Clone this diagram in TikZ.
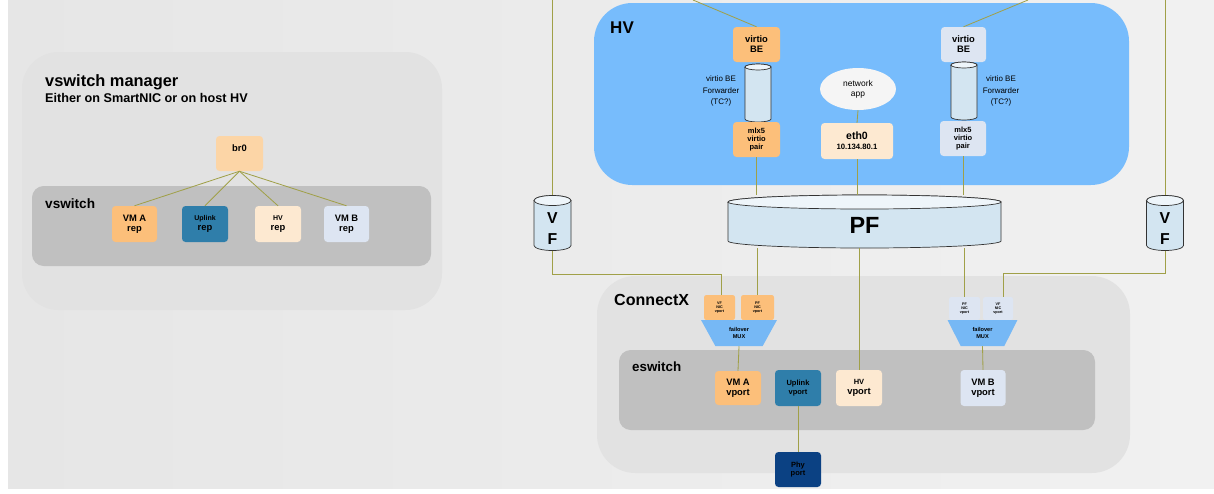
\documentclass[tikz,border=0pt]{standalone}
\usepackage{fontspec}
\setmainfont{Liberation Sans}
\usetikzlibrary{shapes.geometric}
\definecolor{bgL}{HTML}{E6E6E6}
\definecolor{bgR}{HTML}{F1F1F1}
\definecolor{panel}{HTML}{E2E2E2}
\definecolor{inner}{HTML}{C0C0C0}
\definecolor{hvblue}{HTML}{77BCFC}
\definecolor{orangeb}{HTML}{FCBF7A}
\definecolor{peach}{HTML}{FCD5A6}
\definecolor{lpeach}{HTML}{FDE9D1}
\definecolor{lav}{HTML}{DDE5F2}
\definecolor{uplink}{HTML}{2F7EAA}
\definecolor{phyb}{HTML}{0B4183}
\definecolor{cyl}{HTML}{D3E5F1}
\definecolor{cyltop}{HTML}{EEF5FA}
\definecolor{lk}{HTML}{A0A048}
\definecolor{mux}{HTML}{76B8F5}
\tikzset{
  bx/.style={rounded corners=3pt, align=center, inner sep=0pt, font=\bfseries\fontsize{8}{8.6}\selectfont},
  sz/.style 2 args={minimum width=#1*0.03cm, minimum height=#2*0.03cm},
  lk/.style={draw=lk, line width=0.7pt},
  cylline/.style={draw=black!80, line width=0.6pt},
  title/.style={anchor=west, inner sep=0pt, font=\bfseries\fontsize{12}{13}\selectfont},
  nic/.style={bx, rounded corners=2pt, font=\bfseries\fontsize{3.2}{3.6}\selectfont},
  muxs/.style={trapezium, shape border rotate=180, trapezium stretches=true, fill=mux, inner sep=0pt,
    align=center, font=\bfseries\fontsize{4.8}{5.4}\selectfont},
  fwd/.style={align=center, inner sep=0pt, font=\fontsize{6.8}{9.8}\selectfont},
}
% #1 name, #2 cx, #3 cy, #4 width px, #5 height px, #6 ellipse ry px, #7 label options, #8 text
\newcommand\mycyl[8]{%
  \pgfmathsetmacro\cyCX{#2}%
  \pgfmathsetmacro\cyHR{#4/2}%
  \pgfmathsetmacro\cyT{#3-#5/2+#6}%
  \pgfmathsetmacro\cyB{#3+#5/2-#6}%
  \pgfmathsetmacro\cyRX{#4/2*0.03}%
  \pgfmathsetmacro\cyRY{#6*0.03}%
  \filldraw[fill=cyl, cylline]
    (\cyCX-\cyHR,\cyT) -- (\cyCX-\cyHR,\cyB)
    arc[start angle=180, end angle=360, x radius=\cyRX cm, y radius=\cyRY cm]
    -- (\cyCX+\cyHR,\cyT)
    arc[start angle=0, end angle=180, x radius=\cyRX cm, y radius=\cyRY cm] -- cycle;
  \filldraw[fill=cyltop, cylline] (\cyCX,\cyT) ellipse[x radius=\cyRX cm, y radius=\cyRY cm];
  \node[inner sep=0pt, minimum width=#4*0.03cm, minimum height=#5*0.03cm,
        label={[inner sep=0pt, align=center, #7]center:#8}] (#1) at (#2,#3) {};
}
\begin{document}
\begin{tikzpicture}[x=0.03cm, y=-0.03cm]
\useasboundingbox (0,0) rectangle (1214,493);
\fill[white] (0,0) rectangle (1214,493);
\shade[left color=bgL, right color=bgR] (8,0) rectangle (1214,488);

% ---------------- left panel ----------------
\fill[panel, rounded corners=1.1cm] (22,52) rectangle (442,310);
\node[title, font=\bfseries\fontsize{14}{15}\selectfont] (vmtitle) at (45,82) {vswitch manager};
\node[title, font=\bfseries\fontsize{10.8}{11}\selectfont] (vmsub) at (45,98) {Either on SmartNIC or on host HV};
\fill[inner, rounded corners=0.35cm] (32,186) rectangle (431,266);
\node[title, font=\bfseries\fontsize{11.6}{12}\selectfont] (vsw) at (45,204) {vswitch};

\node[bx, sz={47}{35}, fill=peach, text depth=0.35cm] (br0) at (239.5,153.5) {br0};
\node[bx, sz={45}{36}, fill=orangeb] (repA) at (134.5,224) {VM A\\rep};
\node[bx, sz={46}{36}, fill=uplink] (repU) at (205,224) {{\fontsize{6}{7}\selectfont Uplink}\\rep};
\node[bx, sz={46}{36}, fill=lpeach] (repH) at (278,224) {{\fontsize{6}{7}\selectfont HV}\\rep};
\node[bx, sz={45}{36}, fill=lav] (repB) at (346.5,224) {VM B\\rep};
\foreach \t in {repA,repU,repH,repB} \draw[lk] (br0.south) -- (\t.north);

% ---------------- HV panel ----------------
\fill[hvblue, rounded corners=1.15cm] (594,3) rectangle (1129,185);
\node[title, font=\bfseries\fontsize{14.5}{15}\selectfont] (hvt) at (610,28) {HV};

\node[bx, sz={47}{35}, fill=orangeb] (vbeL) at (756.5,44.5) {virtio\\BE};
\mycyl{cylL}{758}{93}{26}{58}{3}{}{}
\node[fwd] (fwdL) at (721,91) {virtio BE\\Forwarder\\(TC?)};
\node[bx, sz={47}{35}, fill=orangeb, font=\bfseries\fontsize{6.4}{7.2}\selectfont] (mlxL) at (756.5,139.5) {mlx5\\virtio\\pair};

\node[ellipse, fill=white!96!black, minimum width=2.28cm, minimum height=1.26cm, align=center, inner sep=0pt,
      font=\fontsize{7.2}{8.6}\selectfont] (napp) at (858,89) {network\\app};
\node[bx, sz={72}{36}, fill=lpeach] (eth0) at (857,141) {{\fontsize{9}{11}\selectfont eth0}\\{\fontsize{6.6}{8}\selectfont 10.134.80.1}};

\node[bx, sz={45}{35}, fill=lav] (vbeR) at (963.5,44.5) {virtio\\BE};
\mycyl{cylR}{964}{91}{26}{58}{3}{}{}
\node[fwd] (fwdR) at (1001,91) {virtio BE\\Forwarder\\(TC?)};
\node[bx, sz={46}{35}, fill=lav, font=\bfseries\fontsize{6.4}{7.2}\selectfont] (mlxR) at (963,138.5) {mlx5\\virtio\\pair};

% ---------------- PF / VF ----------------
\mycyl{pf}{864.5}{221.5}{273}{53}{7}{font=\bfseries\fontsize{20}{20}\selectfont, yshift=-0.11cm}{PF}
\mycyl{vfL}{552.5}{223}{37}{55}{5}{font=\bfseries\fontsize{13.5}{18}\selectfont, yshift=-0.17cm}{V\\F}
\mycyl{vfR}{1165}{223}{37}{55}{5}{font=\bfseries\fontsize{13.5}{18}\selectfont, yshift=-0.17cm}{V\\F}

% ---------------- ConnectX panel ----------------
\fill[panel, rounded corners=1.15cm] (597,276) rectangle (1130,473);
\node[title, font=\bfseries\fontsize{13.7}{14}\selectfont] (cxt) at (614,300) {ConnectX};
\fill[inner, rounded corners=0.35cm] (619,350) rectangle (1095,430);
\node[title, font=\bfseries\fontsize{11.4}{12}\selectfont] (esw) at (632,367) {eswitch};

\node[nic, sz={31}{25}, fill=orangeb] (nicVFL) at (719.5,307.5) {VF\\NIC\\vport};
\node[nic, sz={33}{25}, fill=orangeb] (nicPFL) at (757.5,307.5) {PF\\NIC\\vport};
\node[nic, sz={31}{23}, fill=lav] (nicPFR) at (964.5,308.5) {PF\\NIC\\vport};
\node[nic, sz={30}{23}, fill=lav] (nicVFR) at (998,308.5) {VF\\NIC\\vport};

\node[muxs, sz={76}{26}, trapezium angle=60] (muxL) at (739,333) {failover\\MUX};
\node[muxs, sz={70}{26}, trapezium angle=60] (muxR) at (982.5,333) {failover\\MUX};

\node[bx, sz={46}{34}, fill=orangeb] (vmav) at (738,388) {VM A\\vport};
\node[bx, sz={46}{36}, fill=uplink, font=\bfseries\fontsize{6.4}{8}\selectfont] (upv) at (798,388) {Uplink\\vport};
\node[bx, sz={46}{36}, fill=lpeach] (hvv) at (859,388) {{\fontsize{6.4}{8}\selectfont HV}\\vport};
\node[bx, sz={45}{36}, fill=lav] (vmbv) at (983,388) {VM B\\vport};
\node[bx, sz={46}{35}, fill=phyb, font=\bfseries\fontsize{6.4}{7.4}\selectfont] (phy) at (798,469.5) {Phy\\port};

% ---------------- connectors ----------------
\coordinate (topL) at (693,0);
\coordinate (topR) at (1028,0);
\coordinate (vfLtop) at (552.5,0);
\coordinate (vfRtop) at (1165,0);
\coordinate (bendL) at (721,274);
\coordinate (bendR) at (1003,273);
\draw[lk] (topL) -- (vbeL.north);
\draw[lk] (topR) -- (vbeR.north);
\draw[lk] (vfLtop) -- (vfL.north);
\draw[lk] (vfRtop) -- (vfR.north);
\draw[lk] (vfL.south) |- (bendL) -- (nicVFL.north -| bendL);
\draw[lk] (vfR.south) |- (bendR) -- (nicVFR.north -| bendR);
\draw[lk] (napp.south) -- (eth0.north);
\draw[lk] (mlxL.south) -- (mlxL.south |- pf.north);
\draw[lk] (eth0.south) -- (eth0.south |- pf.north);
\draw[lk] (mlxR.south) -- (mlxR.south |- pf.north);
\draw[lk] (nicPFL.north |- pf.south) -- (nicPFL.north);
\draw[lk] (hvv.north |- pf.south) -- (hvv.north);
\draw[lk] (nicPFR.north |- pf.south) -- (nicPFR.north);
\draw[lk] (muxL.south) -- (vmav.north);
\draw[lk] (muxR.south) -- (vmbv.north);
\draw[lk] (upv.south) -- (phy.north);
\end{tikzpicture}
\end{document}
